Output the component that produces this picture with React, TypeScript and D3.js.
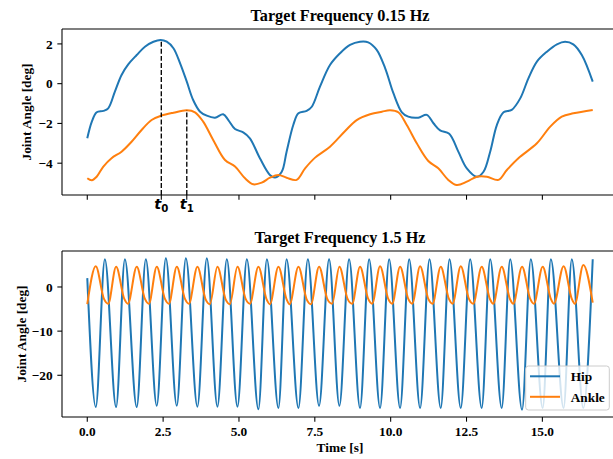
import React from 'react';
import * as d3 from 'd3';

// ---------- data ----------
const TITLE_TOP = 'Target Frequency 0.15 Hz';
const TITLE_BOTTOM = 'Target Frequency 1.5 Hz';
const Y_LABEL = 'Joint Angle [deg]';
const X_LABEL = 'Time [s]';
const SERIES_NAMES = ['Hip', 'Ankle'];

const T0 = 2.44;
const T1 = 3.28;

const topXTicks = [0, T0, T1, 5, 7.5, 10, 12.5, 15];
const bottomXTicks = [0, 2.5, 5, 7.5, 10, 12.5, 15];
const topYTicks = [-4, -2, 0, 2];
const bottomYTicks = [-20, -10, 0];

// 0.15 Hz trial: [time s, angle deg]
const hipSlow: [number, number][] = [
  [0, -2.75], [0.15, -1.91], [0.31, -1.44], [0.53, -1.37], [0.69, -1.24], [0.91, -0.4],
  [1.13, 0.44], [1.35, 0.97], [1.63, 1.44], [1.9, 1.86], [2.18, 2.11], [2.42, 2.2],
  [2.62, 2.11], [2.84, 1.78], [3.06, 1.02], [3.28, 0.1], [3.49, -0.82], [3.72, -1.41],
  [3.94, -1.61], [4.21, -1.71], [4.48, -1.54], [4.65, -1.83], [4.87, -2.28], [5.14, -2.45],
  [5.36, -2.75], [5.69, -3.75], [6.02, -4.59], [6.19, -4.72], [6.41, -4.43], [6.57, -3.42],
  [6.79, -2.08], [6.96, -1.49], [7.23, -1.37], [7.4, -1.16], [7.67, -0.15], [8.0, 0.94],
  [8.33, 1.53], [8.66, 1.95], [8.99, 2.11], [9.26, 2.08], [9.54, 1.7], [9.82, 0.77],
  [10.09, -0.48], [10.37, -1.44], [10.58, -1.66], [10.91, -1.71], [11.19, -1.57], [11.41, -1.99],
  [11.63, -2.35], [11.93, -2.52], [12.23, -3.42], [12.51, -4.26], [12.84, -4.68], [13.06, -4.43],
  [13.28, -3.42], [13.5, -2.08], [13.72, -1.44], [13.99, -1.32], [14.27, -0.74], [14.54, 0.27],
  [14.82, 1.11], [15.15, 1.61], [15.48, 1.98], [15.75, 2.11], [16.02, 1.98], [16.3, 1.44],
  [16.66, 0.1],
];

const ankleSlow: [number, number][] = [
  [0, -4.76], [0.15, -4.86], [0.31, -4.68], [0.53, -4.17], [0.8, -3.75], [1.13, -3.42],
  [1.46, -2.92], [1.79, -2.33], [2.12, -1.83], [2.44, -1.61], [2.84, -1.46], [3.28, -1.34],
  [3.55, -1.44], [3.82, -1.91], [4.15, -2.83], [4.54, -3.84], [4.87, -4.17], [5.2, -4.76],
  [5.47, -5.06], [5.75, -4.98], [6.02, -4.73], [6.3, -4.59], [6.57, -4.73], [6.9, -4.84],
  [7.18, -4.26], [7.51, -3.72], [8.0, -3.17], [8.5, -2.38], [8.88, -1.83], [9.32, -1.54],
  [9.71, -1.41], [9.98, -1.34], [10.25, -1.44], [10.53, -2.08], [10.86, -3.0], [11.24, -3.89],
  [11.57, -4.26], [11.9, -4.84], [12.18, -5.1], [12.51, -4.93], [12.84, -4.68], [13.17, -4.68],
  [13.55, -4.84], [13.83, -4.34], [14.21, -3.75], [14.82, -3.0], [15.26, -2.16], [15.64, -1.66],
  [16.02, -1.49], [16.66, -1.32],
];

// 1.5 Hz trial: extrema [time s, angle deg]
const hipFast: [number, number][] = [
  [0, 2.0], [0.28, -27.2], [0.58, 6.3], [0.95, -27.2], [1.24, 6.3], [1.63, -27.2], [1.93, 6.3],
  [2.29, -26.9], [2.59, 6.5], [2.95, -26.9], [3.25, 6.5], [3.63, -27.1], [3.94, 6.5],
  [4.29, -27.1], [4.6, 6.3], [4.95, -27.1], [5.26, 6.3], [5.64, -27.7], [5.92, 6.3],
  [6.3, -27.4], [6.57, 6.3], [6.96, -27.4], [7.27, 6.3], [7.64, -26.9], [7.97, 6.3],
  [8.31, -26.9], [8.63, 6.3], [8.99, -27.4], [9.29, 6.3], [9.65, -27.4], [9.95, 6.3],
  [10.31, -27.4], [10.61, 6.3], [10.97, -27.4], [11.28, 6.3], [11.65, -27.4], [11.94, 6.3],
  [12.31, -27.4], [12.62, 6.3], [13.0, -27.4], [13.28, 6.3], [13.66, -27.4], [13.94, 6.3],
  [14.33, -27.8], [14.62, 6.3], [15.01, -27.4], [15.28, 6.3], [15.7, -27.4], [15.97, 6.3],
  [16.35, -27.4], [16.66, 6.3],
];

// ankle at 1.5 Hz: peak, shoulder on the way down, trough
const ankleFast: [number, number][] = [
  [0, -3.9],
  [0.28, 4.7], [0.55, -2.7], [0.69, -3.8],
  [0.95, 4.6], [1.22, -2.7], [1.34, -3.8],
  [1.63, 4.6], [1.9, -2.7], [2.03, -3.8],
  [2.29, 4.6], [2.56, -2.7], [2.69, -3.8],
  [2.95, 4.6], [3.22, -2.7], [3.35, -3.8],
  [3.63, 4.6], [3.9, -2.8], [4.04, -3.9],
  [4.29, 4.6], [4.56, -2.8], [4.7, -3.9],
  [4.95, 4.6], [5.22, -2.7], [5.36, -3.8],
  [5.64, 4.6], [5.91, -2.8], [6.02, -3.9],
  [6.3, 4.6], [6.57, -2.8], [6.67, -3.9],
  [6.96, 4.6], [7.23, -2.8], [7.37, -3.9],
  [7.64, 4.6], [7.91, -2.7], [8.07, -3.8],
  [8.31, 4.6], [8.58, -2.7], [8.73, -3.8],
  [8.99, 4.6], [9.26, -2.7], [9.39, -3.8],
  [9.65, 4.7], [9.92, -2.7], [10.05, -3.8],
  [10.31, 4.6], [10.58, -2.7], [10.71, -3.8],
  [10.97, 4.7], [11.24, -2.7], [11.38, -3.8],
  [11.65, 4.6], [11.92, -2.7], [12.04, -3.8],
  [12.31, 4.7], [12.58, -2.7], [12.72, -3.8],
  [13.0, 4.6], [13.27, -2.7], [13.38, -3.8],
  [13.66, 4.6], [13.93, -2.7], [14.04, -3.8],
  [14.33, 4.6], [14.6, -2.7], [14.72, -3.8],
  [15.01, 4.6], [15.28, -2.7], [15.38, -3.8],
  [15.7, 4.7], [15.97, -2.7], [16.07, -3.8],
  [16.35, 5.0], [16.66, -3.55],
];

// ---------- layout ----------
const W = 613;
const H = 459;
const FONT = '"Liberation Serif", "Times New Roman", serif';
const BLUE = '#1f77b4';
const ORANGE = '#ff7f0e';
const AX_L = 62;
const AX_R = 618;
const TOP = { y0: 29, y1: 195 };
const BOT = { y0: 251, y1: 417 };
const TICK = 4.67;
const PAD = 4.67;

const fmtY = (v: number) => (v < 0 ? '\u2212' + Math.abs(v) : String(v));
const fmtX = d3.format('.1f');

export default function App() {
  const x = d3.scaleLinear().domain([-0.833, 17.493]).range([AX_L, AX_R]);
  const yTop = d3.scaleLinear().domain([-5.6, 2.75]).range([TOP.y1, TOP.y0]);
  const yBot = d3.scaleLinear().domain([-29.45, 8.15]).range([BOT.y1, BOT.y0]);

  const lineTop = d3
    .line<[number, number]>()
    .x((d) => x(d[0]))
    .y((d) => yTop(d[1]))
    .curve(d3.curveCatmullRom.alpha(0.5));
  const lineBot = d3
    .line<[number, number]>()
    .x((d) => x(d[0]))
    .y((d) => yBot(d[1]))
    .curve(d3.curveMonotoneX);

  const hipAtT0 = d3.max(hipSlow, (d) => d[1]) as number;
  const ankleAtT1 = d3.max(ankleSlow, (d) => d[1]) as number;

  const frame = (box: { y0: number; y1: number }) => (
    <g stroke="#000" strokeWidth={1.07} fill="none">
      <line x1={AX_L} x2={AX_L} y1={box.y0} y2={box.y1} />
      <line x1={AX_L} x2={AX_R} y1={box.y0} y2={box.y0} />
      <line x1={AX_L} x2={AX_R} y1={box.y1} y2={box.y1} />
      <line x1={AX_R} x2={AX_R} y1={box.y0} y2={box.y1} />
    </g>
  );

  const yAxis = (ticks: number[], scale: d3.ScaleLinear<number, number>) => (
    <g>
      {ticks.map((t) => (
        <g key={t}>
          <line x1={AX_L - TICK} x2={AX_L} y1={scale(t)} y2={scale(t)} stroke="#000" strokeWidth={1.07} />
          <text
            x={AX_L - TICK - PAD}
            y={scale(t)}
            dy="0.35em"
            textAnchor="end"
            fontFamily={FONT}
            fontWeight="bold"
            fontSize={13.33}
          >
            {fmtY(t)}
          </text>
        </g>
      ))}
    </g>
  );

  return (
    <svg
      width={W}
      height={H}
      viewBox={`0 0 ${W} ${H}`}
      style={{ position: 'absolute', left: 0, top: 0, background: '#fff' }}
    >
      <rect x={0} y={0} width={W} height={H} fill="#fff" />

      {/* ---------- top panel ---------- */}
      <text x={(AX_L + AX_R) / 2} y={TOP.y0 - 7.8} textAnchor="middle" fontFamily={FONT} fontWeight="bold" fontSize={16.2}>
        {TITLE_TOP}
      </text>
      <path d={lineTop(hipSlow) || ''} fill="none" stroke={BLUE} strokeWidth={2} />
      <path d={lineTop(ankleSlow) || ''} fill="none" stroke={ORANGE} strokeWidth={2} />
      <line
        x1={x(T0)}
        x2={x(T0)}
        y1={TOP.y1}
        y2={yTop(hipAtT0)}
        stroke="#000"
        strokeWidth={1.33}
        strokeDasharray="4.93 2.13"
      />
      <line
        x1={x(T1)}
        x2={x(T1)}
        y1={TOP.y1}
        y2={yTop(ankleAtT1)}
        stroke="#000"
        strokeWidth={1.33}
        strokeDasharray="4.93 2.13"
      />
      {frame(TOP)}
      {yAxis(topYTicks, yTop)}
      {topXTicks.map((t) => (
        <line key={t} x1={x(t)} x2={x(t)} y1={TOP.y1} y2={TOP.y1 + TICK} stroke="#000" strokeWidth={1.07} />
      ))}
      {[
        { t: T0, sub: '0' },
        { t: T1, sub: '1' },
      ].map((d) => (
        <text
          key={d.sub}
          x={x(d.t)}
          y={209}
          textAnchor="middle"
          fontFamily='"DejaVu Sans", sans-serif'
          fontWeight="bold"
          fontStyle="italic"
          fontSize={14.5}
        >
          t
          <tspan fontSize={10.2} dy={2.5} fontStyle="normal">
            {d.sub}
          </tspan>
        </text>
      ))}
      <text
        transform={`translate(31,${(TOP.y0 + TOP.y1) / 2}) rotate(-90)`}
        textAnchor="middle"
        fontFamily={FONT}
        fontWeight="bold"
        fontSize={13.33}
      >
        {Y_LABEL}
      </text>

      {/* ---------- bottom panel ---------- */}
      <text x={(AX_L + AX_R) / 2} y={BOT.y0 - 8.3} textAnchor="middle" fontFamily={FONT} fontWeight="bold" fontSize={16.2}>
        {TITLE_BOTTOM}
      </text>
      <path d={lineBot(hipFast) || ''} fill="none" stroke={BLUE} strokeWidth={2} />
      <path d={lineBot(ankleFast) || ''} fill="none" stroke={ORANGE} strokeWidth={2} />
      {frame(BOT)}
      {yAxis(bottomYTicks, yBot)}
      {bottomXTicks.map((t) => (
        <g key={t}>
          <line x1={x(t)} x2={x(t)} y1={BOT.y1} y2={BOT.y1 + TICK} stroke="#000" strokeWidth={1.07} />
          <text x={x(t)} y={436} textAnchor="middle" fontFamily={FONT} fontWeight="bold" fontSize={13.33}>
            {fmtX(t)}
          </text>
        </g>
      ))}
      <text x={(AX_L + AX_R) / 2} y={451.5} textAnchor="middle" fontFamily={FONT} fontWeight="bold" fontSize={13.33}>
        {X_LABEL}
      </text>
      <text
        transform={`translate(25.5,${(BOT.y0 + BOT.y1) / 2}) rotate(-90)`}
        textAnchor="middle"
        fontFamily={FONT}
        fontWeight="bold"
        fontSize={13.33}
      >
        {Y_LABEL}
      </text>

      {/* legend */}
      <g>
        <rect
          x={525.7}
          y={366}
          width={83.6}
          height={44}
          rx={2.7}
          fill="#fff"
          fillOpacity={0.8}
          stroke="#cccccc"
          strokeWidth={1}
        />
        {SERIES_NAMES.map((name, i) => (
          <g key={name}>
            <line
              x1={530}
              x2={560}
              y1={376.3 + i * 20.5}
              y2={376.3 + i * 20.5}
              stroke={i === 0 ? BLUE : ORANGE}
              strokeWidth={2}
            />
            <text x={570.7} y={381 + i * 20.5} fontFamily={FONT} fontWeight="bold" fontSize={13.33}>
              {name}
            </text>
          </g>
        ))}
      </g>
    </svg>
  );
}
